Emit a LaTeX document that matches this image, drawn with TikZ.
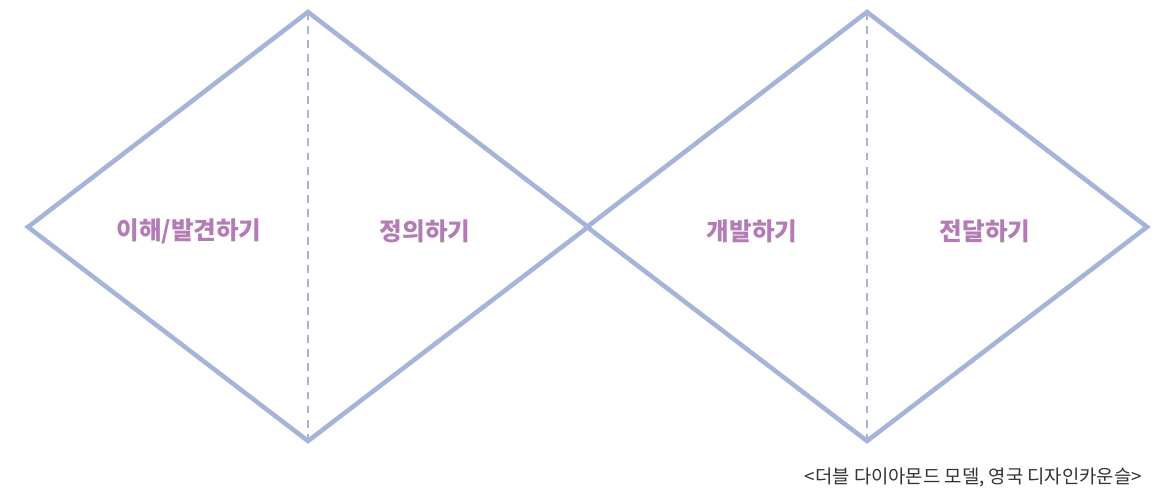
\documentclass[tikz,border=0pt]{standalone}
\usepackage{fontspec}
\setmainfont{Noto Sans CJK KR}
\definecolor{diamondblue}{HTML}{A5B4D8}
\definecolor{stagepurple}{HTML}{B47CB6}
\definecolor{notegray}{HTML}{333333}

\begin{document}
\begin{tikzpicture}[x=0.02cm,y=-0.02cm,
        diamond line/.style={diamondblue,line width=2.6pt},
        split line/.style={diamondblue,line width=1.4pt,dash pattern=on 4.5pt off 3.5pt},
        stage/.style={stagepurple,font=\fontsize{14}{16}\selectfont\bfseries}]
        \useasboundingbox (0,0) rectangle (1170,493);
        % two diamonds: diverge then converge
        \foreach \n/\cx in {a/308, b/867}{
            \coordinate (\n-w) at (\cx-280,227);
            \coordinate (\n-n) at (\cx,12);
            \coordinate (\n-e) at (\cx+280,227);
            \coordinate (\n-s) at (\cx,441);
            \draw[split line] (\n-n) -- (\n-s);
            \draw[diamond line] (\n-w) -- (\n-n) -- (\n-e) -- (\n-s) -- cycle;
        }
        \node[stage] (discover) at (189,231) {이해/발견하기};
        \node[stage] (define) at (425,231) {정의하기};
        \node[stage] (develop) at (752,231) {개발하기};
        \node[stage] (deliver) at (985,231) {전달하기};
        \node[notegray,font=\fontsize{10.7}{12}\selectfont,anchor=east] (source) at (1148,478) {<더블 다이아몬드 모델, 영국 디자인카운슬>};
    \end{tikzpicture}
\end{document}
